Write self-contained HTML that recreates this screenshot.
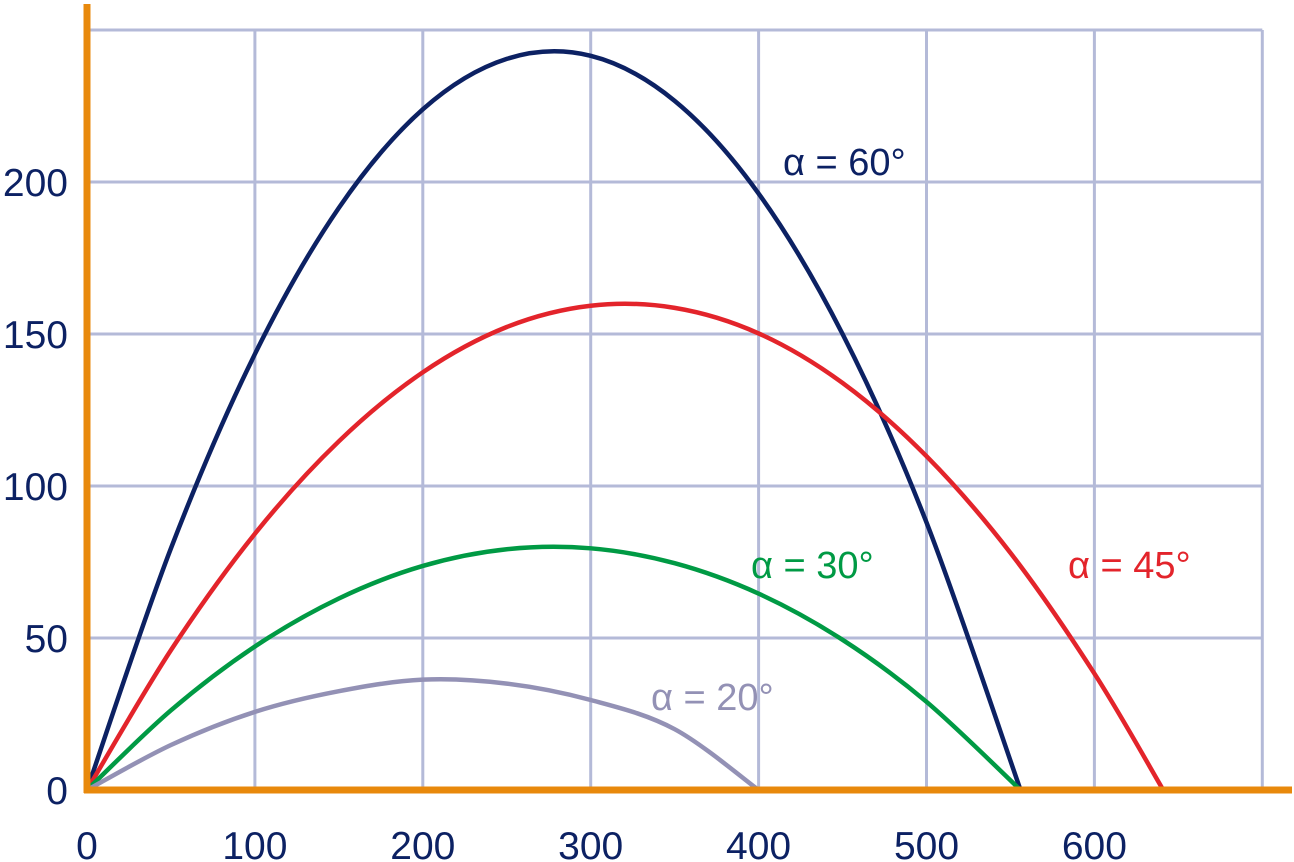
<!DOCTYPE html>
<html><head><meta charset="utf-8"><style>
html,body{margin:0;padding:0;background:#fff;}
svg{display:block;font-family:"Liberation Sans",Arial,sans-serif;}
</style></head><body>
<svg id="chart" width="1294" height="862" viewBox="0 0 1294 862" xmlns="http://www.w3.org/2000/svg">
<g id="grid"></g>
<g id="series"></g>
<g id="axes"></g>
<g id="labels"></g>
</svg>
<script>
const xTicks=[0,100,200,300,400,500,600];
const yTicks=[0,50,100,150,200];
const xGrid=[100,200,300,400,500,600,700];
const yGrid=[50,100,150,200,250];
const xs60=[0,50,100,150,200,250,300,350,400,450,500,556];
const ys60=[0,79.5,143.4,191.5,223.9,240.5,241.5,226.7,196.2,150,88,0];
const xs45=[0,50,100,150,200,250,300,350,400,450,500,550,600,641];
const ys45=[0,46,84.3,114.7,137.4,152.3,159.3,158.6,150.2,133.9,109.8,78,38.3,0];
const xs30=[0,50,100,150,200,250,300,350,400,450,500,556];
const ys30=[0,26.2,47.2,63,73.7,79.2,79.5,74.6,64.6,49.4,29,0];
const xs20=[0,50,100,150,200,250,300,350,400];
const ys20=[0,14.8,25.7,32.5,36.3,35,29.6,20,0];
const seriesNames=["alpha-60","alpha-45","alpha-30","alpha-20"];
const seriesLabels=["α = 60°","α = 45°","α = 30°","α = 20°"];

const NS="http://www.w3.org/2000/svg";
const X=v=>87+v*1.679;
const Y=v=>790-v*3.04;
function mk(tag,parent,attrs){const e=document.createElementNS(NS,tag);for(const k in attrs)e.setAttribute(k,attrs[k]);parent.appendChild(e);return e;}
const grid=document.getElementById('grid'),ser=document.getElementById('series'),axes=document.getElementById('axes'),lab=document.getElementById('labels');
xGrid.forEach(v=>{const l=mk('line',grid,{x1:X(v),x2:X(v),y1:Y(250),y2:Y(0),stroke:'#B4BAD8','stroke-width':3});

});
yGrid.forEach(v=>{const l=mk('line',grid,{x1:X(0),x2:X(700),y1:Y(v),y2:Y(v),stroke:'#B4BAD8','stroke-width':3});

});
function pathFrom(xs,ys){const p=xs.map((x,i)=>[X(x),Y(ys[i])]);let d='M'+p[0][0]+','+p[0][1];
for(let i=0;i<p.length-1;i++){const p0=p[i-1]||p[i],p1=p[i],p2=p[i+1],p3=p[i+2]||p2;
const c1=[p1[0]+(p2[0]-p0[0])/6,p1[1]+(p2[1]-p0[1])/6],c2=[p2[0]-(p3[0]-p1[0])/6,p2[1]-(p3[1]-p1[1])/6];
d+=' C'+c1+' '+c2+' '+p2;}return d;}
const data=[[xs60,ys60,'#0C2163'],[xs45,ys45,'#E3242B'],[xs30,ys30,'#009A44'],[xs20,ys20,'#9391B5']];
data.forEach((s,i)=>{const p=mk('path',ser,{d:pathFrom(s[0],s[1]),fill:'none',stroke:s[2],'stroke-width':4.5,'stroke-linecap':'round'});

});
const a1=mk('line',axes,{x1:87,x2:87,y1:4,y2:793,stroke:'#E8890C','stroke-width':7});


const a2=mk('line',axes,{x1:84,x2:1292,y1:790,y2:790,stroke:'#E8890C','stroke-width':7});


xTicks.forEach(v=>{const t=mk('text',lab,{x:X(v),y:859,'text-anchor':'middle','font-size':39,fill:'#0C2163'});t.textContent=v;

});
yTicks.forEach(v=>{const t=mk('text',lab,{x:68,y:Y(v)+14,'text-anchor':'end','font-size':39,fill:'#0C2163'});t.textContent=v;

});
const lp=[[783,175],[1068,578],[751,578],[651,710]];
seriesLabels.forEach((s,i)=>{const t=mk('text',lab,{x:lp[i][0],y:lp[i][1],'font-size':38,fill:data[i][2]});t.textContent=s;

});
</script>
</body></html>
